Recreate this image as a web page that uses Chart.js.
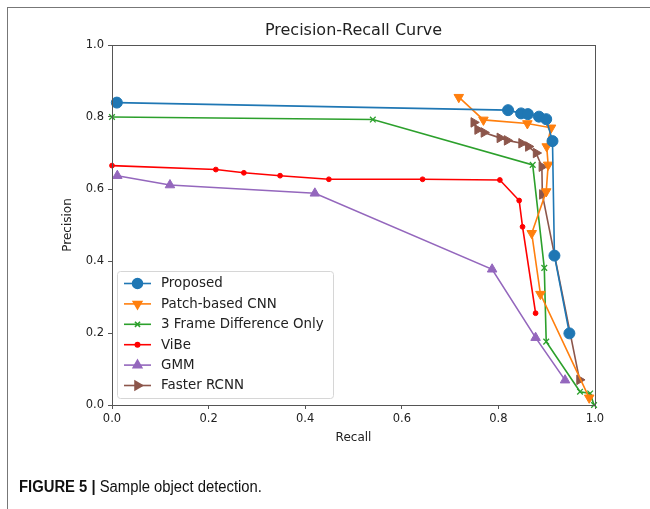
<!DOCTYPE html>
<html>
<head>
<meta charset="utf-8">
<script src="https://cdn.jsdelivr.net/npm/chart.js@4/dist/chart.umd.min.js"></script>
<style>
  html, body { margin: 0; padding: 0; background: #fff; }
  body { width: 650px; height: 509px; position: relative; overflow: hidden; }
  #frame { position: absolute; left: 7px; top: 7px; width: 700px; height: 600px; border: 1px solid #777; box-sizing: border-box; }
  #wrap { position: absolute; left: 0; top: 0; width: 650px; height: 509px; }
  #caption { position: absolute; left: 19px; top: 478px; font-family: "Liberation Sans", Arial, sans-serif; font-size: 16px; color: #111; white-space: nowrap; transform-origin: left top; }
  #caption b { font-weight: bold; }
</style>
</head>
<body>
<div id="frame"></div>
<div id="wrap"><canvas id="c" width="650" height="509"></canvas></div>
<div id="caption"><b>FIGURE 5 |</b> Sample object detection.</div>
<script>
const chartTitle = "Precision-Recall Curve";
const seriesNames = ["Proposed", "Patch-based CNN", "3 Frame Difference Only", "ViBe", "GMM", "Faster RCNN"];

const proposedRecall    = [0.010, 0.820, 0.847, 0.861, 0.884, 0.899, 0.912, 0.916, 0.947];
const proposedPrecision = [0.840, 0.819, 0.810, 0.808, 0.801, 0.794, 0.733, 0.415, 0.199];

const patchRecall    = [0.718, 0.769, 0.860, 0.909, 0.900, 0.903, 0.899, 0.869, 0.887, 0.988];
const patchPrecision = [0.855, 0.792, 0.782, 0.770, 0.718, 0.667, 0.593, 0.477, 0.308, 0.020];

const frameRecall    = [0.000, 0.540, 0.871, 0.895, 0.899, 0.969, 0.990, 0.998];
const framePrecision = [0.800, 0.793, 0.667, 0.381, 0.176, 0.037, 0.032, 0.000];

const vibeRecall    = [0.000, 0.215, 0.273, 0.348, 0.449, 0.643, 0.803, 0.843, 0.850, 0.877];
const vibePrecision = [0.665, 0.654, 0.645, 0.637, 0.627, 0.627, 0.625, 0.568, 0.495, 0.255];

const gmmRecall    = [0.011, 0.120, 0.420, 0.787, 0.877, 0.938];
const gmmPrecision = [0.637, 0.611, 0.588, 0.377, 0.187, 0.069];

const rcnnRecall    = [0.749, 0.757, 0.770, 0.803, 0.818, 0.848, 0.862, 0.878, 0.890, 0.891, 0.968];
const rcnnPrecision = [0.785, 0.765, 0.757, 0.742, 0.735, 0.727, 0.718, 0.700, 0.662, 0.585, 0.070];

const axisTicks = [0.0, 0.2, 0.4, 0.6, 0.8, 1.0];

function pts(xs, ys) { return xs.map((x, i) => ({ x: x, y: ys[i] })); }

const styles = [
  { color: "#1f77b4", pointStyle: "circle",   radius: 5.5, rotation: 0 },
  { color: "#ff7f0e", pointStyle: "triangle", radius: 5.5, rotation: 180 },
  { color: "#2ca02c", pointStyle: "crossRot", radius: 4,   rotation: 0 },
  { color: "#ff0000", pointStyle: "circle",   radius: 2.4, rotation: 0 },
  { color: "#9467bd", pointStyle: "triangle", radius: 5.5, rotation: 0 },
  { color: "#8c564b", pointStyle: "triangle", radius: 5.5, rotation: 90 }
];
const allData = [
  pts(proposedRecall, proposedPrecision),
  pts(patchRecall, patchPrecision),
  pts(frameRecall, framePrecision),
  pts(vibeRecall, vibePrecision),
  pts(gmmRecall, gmmPrecision),
  pts(rcnnRecall, rcnnPrecision)
];

const datasets = seriesNames.map((name, i) => ({
  label: name,
  data: allData[i],
  borderColor: styles[i].color,
  backgroundColor: styles[i].color,
  pointBackgroundColor: styles[i].color,
  pointBorderColor: styles[i].color,
  pointStyle: styles[i].pointStyle,
  pointRadius: styles[i].radius,
  pointRotation: styles[i].rotation,
  pointBorderWidth: styles[i].pointStyle === "crossRot" ? 1.3 : 1,
  borderWidth: 1.6,
  tension: 0,
  fill: false,
  clip: 6
}));

const FONT = "'DejaVu Sans', sans-serif";
const AXIS_COLOR = "#555";

const framePlugin = {
  id: "frameBox",
  afterDatasetsDraw(chart) {
    const a = chart.chartArea, ctx = chart.ctx;
    ctx.save();
    ctx.strokeStyle = AXIS_COLOR;
    ctx.lineWidth = 1;
    ctx.strokeRect(Math.round(a.left) + 0.5, Math.round(a.top) + 0.5, Math.round(a.right - a.left), Math.round(a.bottom - a.top));
    ctx.restore();
  }
};

const titlePlugin = {
  id: "centeredTitle",
  afterDraw(chart) {
    const a = chart.chartArea, ctx = chart.ctx;
    ctx.save();
    ctx.font = "16px " + FONT;
    ctx.fillStyle = "#222";
    ctx.textAlign = "center";
    ctx.textBaseline = "middle";
    ctx.fillText(chartTitle, (a.left + a.right) / 2, 31);
    ctx.restore();
  }
};

const legendPlugin = {
  id: "innerLegend",
  afterDraw(chart) {
    const ctx = chart.ctx;
    const x0 = 117, y0 = 271, w = 216, h = 127;
    ctx.save();
    ctx.fillStyle = "rgba(255,255,255,0.85)";
    ctx.strokeStyle = "#d6d6d6";
    ctx.lineWidth = 1;
    ctx.beginPath();
    ctx.roundRect(x0 + 0.5, y0 + 0.5, w, h, 3);
    ctx.fill();
    ctx.stroke();
    ctx.font = "13.4px " + FONT;
    ctx.textBaseline = "middle";
    chart.data.datasets.forEach((ds, i) => {
      const y = y0 + 12.5 + i * 20.4;
      ctx.strokeStyle = ds.borderColor;
      ctx.lineWidth = 1.6;
      ctx.beginPath();
      ctx.moveTo(124, y);
      ctx.lineTo(151, y);
      ctx.stroke();
      ctx.fillStyle = ds.borderColor;
      Chart.helpers.drawPoint(ctx, {
        pointStyle: ds.pointStyle,
        radius: ds.pointRadius * 0.9,
        rotation: ds.pointRotation,
        borderWidth: ds.pointBorderWidth
      }, 137.5, y);
      ctx.fillStyle = "#222";
      ctx.fillText(ds.label, 161, y + 0.5);
    });
    ctx.restore();
  }
};

new Chart(document.getElementById("c"), {
  type: "line",
  data: { datasets: datasets },
  options: {
    responsive: false,
    animation: false,
    layout: { padding: { left: 0, right: 55, top: 45, bottom: 54 } },
    plugins: {
      legend: { display: false },
      tooltip: { enabled: false },
      title: { display: false }
    },
    scales: {
      x: {
        type: "linear",
        min: 0, max: 1,
        afterBuildTicks(s) { s.ticks = axisTicks.map(v => ({ value: v })); },
        afterFit(s) { s.height = 50; },
        ticks: {
          color: "#222",
          font: { family: FONT, size: 11.5 },
          padding: 3,
          maxRotation: 0,
          callback: v => Number(v).toFixed(1)
        },
        grid: { drawOnChartArea: false, drawTicks: true, tickLength: 4, color: AXIS_COLOR },
        border: { display: true, color: AXIS_COLOR },
        title: {
          display: true, text: "Recall", color: "#222",
          font: { family: FONT, size: 12 },
          padding: { top: 2, bottom: 10 }
        }
      },
      y: {
        type: "linear",
        min: 0, max: 1,
        afterBuildTicks(s) { s.ticks = axisTicks.map(v => ({ value: v })); },
        afterFit(s) { s.width = 112; },
        ticks: {
          color: "#222",
          font: { family: FONT, size: 11.5 },
          padding: 4,
          callback: v => Number(v).toFixed(1)
        },
        grid: { drawOnChartArea: false, drawTicks: true, tickLength: 4, color: AXIS_COLOR },
        border: { display: true, color: AXIS_COLOR },
        title: {
          display: true, text: "Precision", color: "#222",
          font: { family: FONT, size: 12 },
          padding: { top: 61, bottom: 0 }
        }
      }
    }
  },
  plugins: [framePlugin, titlePlugin, legendPlugin]
});

// fit caption to the reference's condensed width
const cap = document.getElementById("caption");
const cw = cap.getBoundingClientRect().width;
if (cw > 0) cap.style.transform = "scaleX(" + (243 / cw).toFixed(3) + ")";
</script>
</body>
</html>
